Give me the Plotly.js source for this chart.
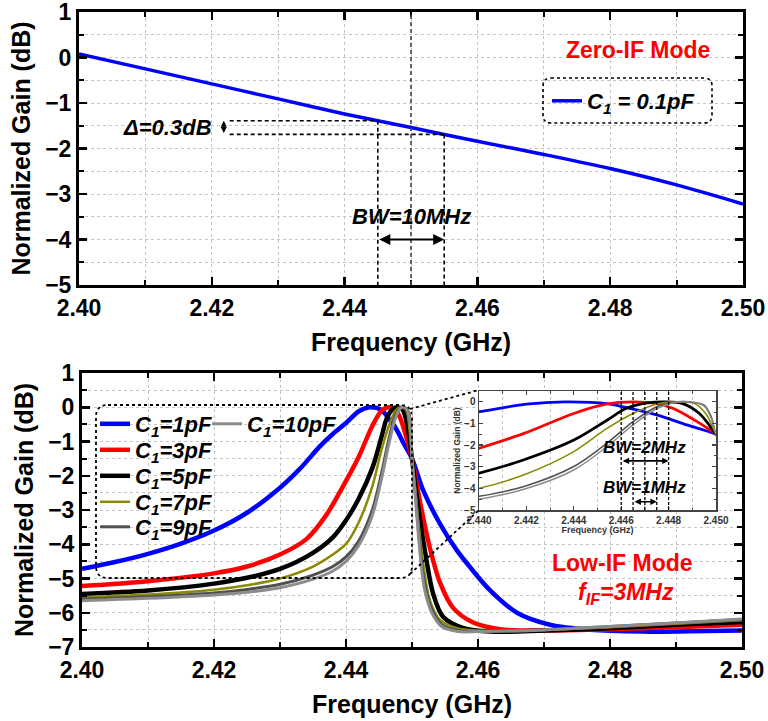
<!DOCTYPE html>
<html><head><meta charset="utf-8">
<script src="https://cdn.plot.ly/plotly-3.0.1.min.js"></script>
<style>html,body{margin:0;padding:0;background:#fff}#chart{width:768px;height:721px}</style>
</head><body><div id="chart"></div>
<script>
// ---------- Zero-IF mode (top panel) ----------
const zeroFreq = [2.40,2.41,2.42,2.43,2.44,2.45,2.46,2.47,2.48,2.49,2.50];
const zeroGain = [0.08,-0.25,-0.58,-0.91,-1.24,-1.54,-1.84,-2.13,-2.44,-2.80,-3.22];
const zeroBwEdges = [2.445, 2.455];
const zeroCenter = 2.45;

// ---------- Low-IF mode (bottom panel) ----------
const c1Freq = [2.400,2.405,2.410,2.415,2.420,2.425,2.430,2.433,2.436,2.438,2.440,2.442,2.4436,2.4454,2.4462,2.4475,2.4488,2.450,2.4517,2.4542,2.4568,2.4588,2.4618,2.4659,2.4709,2.477,2.485,2.492,2.500];
const c1Gain = [-4.72,-4.52,-4.28,-3.98,-3.60,-3.08,-2.35,-1.80,-1.15,-0.78,-0.46,-0.11,0,-0.08,-0.26,-0.60,-1.08,-1.50,-2.43,-3.39,-4.18,-4.67,-5.34,-6.00,-6.35,-6.50,-6.55,-6.54,-6.52];

const c3Freq = [2.400,2.410,2.420,2.425,2.430,2.434,2.437,2.440,2.4419,2.444,2.4454,2.4465,2.4475,2.4482,2.4491,2.450,2.4512,2.4527,2.4542,2.4562,2.4592,2.4633,2.470,2.480,2.490,2.500];
const c3Gain = [-5.22,-5.08,-4.85,-4.65,-4.30,-3.85,-3.15,-2.15,-1.46,-0.54,-0.10,0,-0.08,-0.31,-0.85,-1.50,-2.75,-4.10,-5.10,-5.85,-6.28,-6.48,-6.52,-6.48,-6.42,-6.35];

const c5Freq = [2.400,2.410,2.420,2.425,2.430,2.435,2.438,2.440,2.4419,2.444,2.4454,2.4462,2.4471,2.4479,2.4486,2.4493,2.450,2.451,2.4522,2.4532,2.4547,2.4578,2.462,2.470,2.480,2.490,2.500];
const c5Gain = [-5.45,-5.35,-5.15,-4.98,-4.72,-4.25,-3.80,-3.30,-2.68,-1.77,-0.85,-0.31,-0.05,0,-0.08,-0.54,-1.50,-3.00,-4.47,-5.44,-6.12,-6.45,-6.55,-6.52,-6.45,-6.35,-6.27];

const c7Freq = [2.400,2.410,2.420,2.425,2.430,2.435,2.438,2.440,2.4419,2.444,2.4454,2.4465,2.4475,2.4482,2.4491,2.4496,2.450,2.4505,2.451,2.4517,2.4527,2.4542,2.4568,2.460,2.470,2.480,2.490,2.500];
const c7Gain = [-5.55,-5.47,-5.33,-5.20,-5.00,-4.65,-4.30,-3.99,-3.37,-2.30,-1.23,-0.54,-0.10,0,-0.08,-0.60,-1.50,-2.40,-3.40,-4.55,-5.63,-6.20,-6.45,-6.52,-6.50,-6.42,-6.32,-6.22];

const c9Freq = [2.400,2.410,2.420,2.425,2.430,2.435,2.438,2.440,2.4419,2.444,2.4454,2.4465,2.4475,2.4482,2.4488,2.4495,2.4498,2.450,2.4505,2.451,2.4515,2.452,2.453,2.4545,2.457,2.460,2.470,2.480,2.490,2.500];
const c9Gain = [-5.60,-5.53,-5.42,-5.32,-5.17,-4.90,-4.65,-4.37,-3.91,-2.99,-1.91,-0.92,-0.23,-0.02,0,-0.15,-0.69,-1.50,-2.50,-3.65,-4.60,-5.25,-5.90,-6.35,-6.52,-6.55,-6.50,-6.40,-6.30,-6.20];

const c10Freq = [2.400,2.410,2.420,2.425,2.430,2.435,2.438,2.440,2.4419,2.444,2.4454,2.4465,2.4475,2.4483,2.4489,2.4495,2.4498,2.450,2.4505,2.451,2.4515,2.452,2.453,2.4545,2.457,2.460,2.470,2.480,2.490,2.500];
const c10Gain = [-5.65,-5.58,-5.48,-5.40,-5.27,-5.02,-4.78,-4.50,-4.04,-3.15,-2.07,-1.07,-0.31,-0.02,0,-0.20,-0.77,-1.50,-2.60,-3.80,-4.80,-5.40,-6.00,-6.40,-6.55,-6.55,-6.50,-6.40,-6.30,-6.18];

const zeroName = 'C<sub>1</sub> = 0.1pF';
const lowNames = ['C<sub>1</sub>=1pF','C<sub>1</sub>=3pF','C<sub>1</sub>=5pF','C<sub>1</sub>=7pF','C<sub>1</sub>=9pF','C<sub>1</sub>=10pF'];
const inset2MHz = [2.446, 2.448];
const inset1MHz = [2.4465, 2.4475];
const insetCenter = 2.447;

// ---------- helpers ----------
const F = 'Arial, "Liberation Sans", sans-serif';
const PL = 79, PW = 664, PT = 12, PH = 635;
const px = x => (x - PL) / PW;
const py = y => (PT + PH - y) / PH;
function yAt(xs, ys, x) {
  for (let i = 0; i < xs.length - 1; i++) {
    if (x >= xs[i] && x <= xs[i+1]) {
      const t = (x - xs[i]) / (xs[i+1] - xs[i]);
      return ys[i] + t * (ys[i+1] - ys[i]);
    }
  }
  return ys[ys.length-1];
}
function roundRect(x0, y0, x1, y1, r) {
  const X0 = px(x0), X1 = px(x1), Y0 = py(y0), Y1 = py(y1);
  const rx = r / PW, ry = r / PH;
  return `M${X0+rx},${Y0} L${X1-rx},${Y0} Q${X1},${Y0} ${X1},${Y0-ry} L${X1},${Y1+ry} Q${X1},${Y1} ${X1-rx},${Y1} L${X0+rx},${Y1} Q${X0},${Y1} ${X0},${Y1+ry} L${X0},${Y0-ry} Q${X0},${Y0} ${X0+rx},${Y0} Z`;
}

const gridStyle = {showgrid:true, gridcolor:'#c4c4c4', griddash:'dot', gridwidth:1};
function mainAxis(extra, minorDtick) {
  return Object.assign({
    showline:true, linewidth:3, linecolor:'#000', mirror:'allticks',
    ticks:'inside', ticklen:8, tickwidth:2.5, tickcolor:'#000',
    zeroline:false, automargin:false, ticklabeloverflow:'allow',
    tickfont:{family:F, size:23, color:'#000', weight:'bold'},
    minor:Object.assign({ticks:'inside', ticklen:5, tickwidth:2, tickcolor:'#000', dtick:minorDtick}, gridStyle)
  }, gridStyle, extra);
}
function insetAxis(extra, minorDtick, showMinorGrid) {
  return Object.assign({
    showline:true, linewidth:1.5, linecolor:'#444', mirror:'allticks',
    ticks:'inside', ticklen:4, tickwidth:1.2, tickcolor:'#444',
    zeroline:false, automargin:false, showgrid:false, ticklabeloverflow:'allow',
    tickfont:{family:F, size:10, color:'#333', weight:'bold'},
    minor:{ticks:'inside', ticklen:2.5, tickwidth:1, tickcolor:'#444', dtick:minorDtick,
           showgrid:showMinorGrid, gridcolor:'#c4c4c4', griddash:'dot', gridwidth:1}
  }, extra);
}

// ---------- traces ----------
const lowSeries = [
  {x:c1Freq, y:c1Gain, color:'#0000ff', w:4.5, wi:2.8},
  {x:c3Freq, y:c3Gain, color:'#ff0000', w:4.5, wi:2.8},
  {x:c5Freq, y:c5Gain, color:'#000000', w:4.5, wi:2.8},
  {x:c7Freq, y:c7Gain, color:'#8a8a00', w:2.5, wi:1.5},
  {x:c9Freq, y:c9Gain, color:'#505050', w:3, wi:1.5},
  {x:c10Freq, y:c10Gain, color:'#8c8c8c', w:3, wi:1.5}
];
const SM = 0.9;
const traces = [{
  x: zeroFreq, y: zeroGain, xaxis:'x', yaxis:'y', mode:'lines', type:'scatter',
  line:{color:'#0000ff', width:3.5, shape:'spline', smoothing:SM},
  name: zeroName, legend:'legend'
}];
lowSeries.forEach((s, i) => {
  traces.push({x:s.x, y:s.y, xaxis:'x2', yaxis:'y2', mode:'lines', type:'scatter',
    line:{color:s.color, width:s.w, shape:'spline', smoothing:SM},
    name: lowNames[i], legend: 'legend' + (i + 2)});
});
lowSeries.forEach((s, i) => {
  traces.push({x:s.x, y:s.y, xaxis:'x3', yaxis:'y3', mode:'lines', type:'scatter',
    line:{color:s.color, width:s.wi, shape:'spline', smoothing:SM},
    showlegend:false, name: lowNames[i]});
});

// ---------- decorations ----------
const dashBlack = {color:'#000', width:1.6, dash:'4px,3px'};
const yA = yAt(zeroFreq, zeroGain, zeroBwEdges[0]);
const yB = yAt(zeroFreq, zeroGain, zeroBwEdges[1]);
const deltaX = 2.4227;
const shapes = [
  {type:'line', xref:'x', yref:'y', x0:zeroCenter, x1:zeroCenter, y0:-5, y1:1, line:{color:'#444', width:1.6, dash:'4px,3px'}},
  {type:'line', xref:'x', yref:'y', x0:zeroBwEdges[0], x1:zeroBwEdges[0], y0:yA, y1:-5, line:dashBlack},
  {type:'line', xref:'x', yref:'y', x0:zeroBwEdges[1], x1:zeroBwEdges[1], y0:yB, y1:-5, line:dashBlack},
  {type:'line', xref:'x', yref:'y', x0:deltaX, x1:zeroBwEdges[0], y0:yA, y1:yA, line:dashBlack},
  {type:'line', xref:'x', yref:'y', x0:deltaX, x1:zeroBwEdges[1], y0:yB, y1:yB, line:dashBlack},
  {type:'path', xref:'paper', yref:'paper', path:roundRect(543,78,712,123,8), line:{color:'#000', width:1.6, dash:'3px,3px'}},
  {type:'path', xref:'paper', yref:'paper', path:roundRect(96,405,412,578,12), line:{color:'#000', width:1.8, dash:'3px,3px'}},
  {type:'line', xref:'paper', yref:'paper', x0:px(410), y0:py(409), x1:px(479), y1:py(390), line:{color:'#000', width:1.8, dash:'3px,3px'}},
  {type:'line', xref:'paper', yref:'paper', x0:px(410), y0:py(574), x1:px(479), y1:py(510), line:{color:'#000', width:1.8, dash:'3px,3px'}}
];
[inset2MHz[0], inset1MHz[0], insetCenter, inset1MHz[1], inset2MHz[1]].forEach(v => {
  shapes.push({type:'line', xref:'x3', yref:'y3', x0:v, x1:v, y0:-5, y1:0.5, line:{color:'#000', width:1.3, dash:'3px,2px'}});
});

const biFont = (size, color) => ({family:F, size:size, color:color||'#000', weight:'bold', style:'italic'});
const annotations = [
  {xref:'paper', yref:'paper', x:px(638), y:py(50), xanchor:'center', yanchor:'middle', text:'Zero-IF Mode', showarrow:false, font:{family:F, size:23, color:'#ff0000', weight:'bold'}},
  {xref:'paper', yref:'y', x:px(214), y:(yA+yB)/2, xanchor:'right', yanchor:'middle', text:'Δ=0.3dB', showarrow:false, font:biFont(22)},
  {xref:'x', yref:'y', x:deltaX-0.0009, y:yA, axref:'x', ayref:'y', ax:deltaX-0.0009, ay:yB, text:'', showarrow:true, arrowhead:2, arrowside:'end+start', arrowsize:0.8, arrowwidth:1.5, arrowcolor:'#000'},
  {xref:'x', yref:'y', x:zeroCenter, y:-3.5, xanchor:'center', yanchor:'middle', text:'BW=10MHz', showarrow:false, font:biFont(22)},
  {xref:'x', yref:'y', x:zeroBwEdges[1], y:-4.0, axref:'x', ayref:'y', ax:zeroBwEdges[0], ay:-4.0, text:'', showarrow:true, arrowhead:2, arrowside:'end+start', arrowsize:1, arrowwidth:2.2, arrowcolor:'#000'},
  {xref:'paper', yref:'paper', x:px(622), y:py(563), xanchor:'center', yanchor:'middle', text:'Low-IF Mode', showarrow:false, font:{family:F, size:23, color:'#ff0000', weight:'bold'}},
  {xref:'paper', yref:'paper', x:px(626), y:py(593), xanchor:'center', yanchor:'middle', text:'f<sub>IF</sub>=3MHz', showarrow:false, font:biFont(23, '#ff0000')},
  {xref:'x3', yref:'y3', x:insetCenter, y:-2.13, xanchor:'center', yanchor:'middle', text:'BW=2MHz', showarrow:false, font:biFont(17)},
  {xref:'x3', yref:'y3', x:inset2MHz[1], y:-2.73, axref:'x3', ayref:'y3', ax:inset2MHz[0], ay:-2.73, text:'', showarrow:true, arrowhead:2, arrowside:'end+start', arrowsize:0.8, arrowwidth:1.6, arrowcolor:'#000'},
  {xref:'x3', yref:'y3', x:insetCenter, y:-3.98, xanchor:'center', yanchor:'middle', text:'BW=1MHz', showarrow:false, font:biFont(17)},
  {xref:'x3', yref:'y3', x:inset1MHz[1], y:-4.62, axref:'x3', ayref:'y3', ax:inset1MHz[0], ay:-4.62, text:'', showarrow:true, arrowhead:2, arrowside:'end+start', arrowsize:0.8, arrowwidth:1.6, arrowcolor:'#000'}
];

const legFont = {family:F, size:22, color:'#000', weight:'bold', style:'italic'};
const legBase = (xPix, yPix) => ({x:px(xPix), y:py(yPix), xanchor:'left', yanchor:'middle', bgcolor:'rgba(0,0,0,0)', borderwidth:0, font:legFont});
const layout = {
  width:768, height:721,
  margin:{l:PL, r:768-PL-PW, t:PT, b:721-PT-PH},
  paper_bgcolor:'#fff', plot_bgcolor:'#fff',
  font:{family:F, color:'#000'},
  xaxis: mainAxis({domain:[0,1], anchor:'y', range:[2.40,2.50], tick0:2.40, dtick:0.02, tickformat:'.2f',
    title:{text:'Frequency (GHz)', font:{family:F, size:25, weight:'bold'}, standoff:14}}, 0.01),
  yaxis: mainAxis({domain:[py(285),1], anchor:'x', range:[-5,1], tick0:0, dtick:1,
    title:{text:'Normalized Gain (dB)', font:{family:F, size:25, weight:'bold'}, standoff:8}}, 0.5),
  xaxis2: mainAxis({domain:[px(82),px(742)], anchor:'y2', range:[2.40,2.50], tick0:2.40, dtick:0.02, tickformat:'.2f',
    title:{text:'Frequency (GHz)', font:{family:F, size:25, weight:'bold'}, standoff:14}}, 0.01),
  yaxis2: mainAxis({domain:[0,py(373)], anchor:'x2', range:[-7,1], tick0:0, dtick:1,
    title:{text:'Normalized Gain (dB)', font:{family:F, size:25, weight:'bold'}, standoff:8}}, 0.5),
  xaxis3: insetAxis({domain:[px(479),px(716)], anchor:'y3', range:[2.440,2.450], tick0:2.440, dtick:0.002, tickformat:'.3f',
    title:{text:'Frequency (GHz)', font:{family:F, size:9, weight:'bold', color:'#333'}, standoff:2}}, 0.001, true),
  yaxis3: insetAxis({domain:[py(510),py(391)], anchor:'x3', range:[-5,0.5], tick0:0, dtick:1,
    title:{text:'Normalized Gain (dB)', font:{family:F, size:8.5, weight:'bold', color:'#333'}, standoff:2}}, 0.5, false),
  showlegend:true,
  legend: legBase(547, 101),
  legend2: legBase(95, 424),
  legend3: legBase(95, 450),
  legend4: legBase(95, 476),
  legend5: legBase(95, 502),
  legend6: legBase(95, 527),
  legend7: legBase(207, 424),
  shapes: shapes,
  annotations: annotations
};
Plotly.newPlot('chart', traces, layout, {displayModeBar:false, staticPlot:true});
</script></body></html>
